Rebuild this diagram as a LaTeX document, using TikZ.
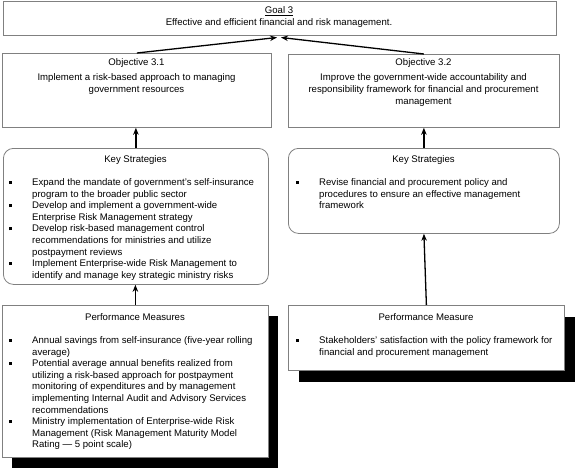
\documentclass[tikz,border=0pt]{standalone}
\usepackage{fontspec}
\setmainfont{Liberation Sans}
\usetikzlibrary{arrows.meta}
\definecolor{boxgray}{RGB}{128,128,128}
\newcommand\bul{\rule[1.6pt]{3pt}{3pt}}
\begin{document}
\begin{tikzpicture}[x=1pt,y=-1pt,
  box/.style={draw=boxgray, line width=0.8pt, fill=white, anchor=north west, inner sep=0pt},
  rbox/.style={box, rounded corners=10pt},
  shadowbox/.style={fill=black, anchor=north west, inner sep=0pt},
  txt/.style={font=\fontsize{9.6}{11.6}\selectfont, inner sep=0pt, text=black},
  link/.style={line width=1.3pt, -{Stealth[length=7pt,width=5.5pt]}},
]
\useasboundingbox (0,0) rectangle (575,468);

% goal
\node[box, minimum width=553pt, minimum height=34pt] (g) at (3,1) {};
\node[txt, anchor=base] (gt) at (279,14) {\underline{Goal 3}};
\node[txt, anchor=base] (gd) at (279,25.5) {Effective and efficient financial and risk management.};
\coordinate (gl) at (277,37.5);
\coordinate (gr) at (281,37.5);

% objectives
\node[box, minimum width=269pt, minimum height=74pt] (o1) at (2,53) {};
\node[txt, anchor=base] (o1t) at (136.5,66) {Objective 3.1};
\node[txt, anchor=base] (o1d) at (136.5,81) {\begin{tabular}[t]{@{}c@{}}Implement a risk-based approach to managing\\government resources\end{tabular}};

\node[box, minimum width=271pt, minimum height=73pt] (o2) at (288,54) {};
\node[txt, anchor=base] (o2t) at (423.5,66) {Objective 3.2};
\node[txt, anchor=base] (o2d) at (423.5,81) {\begin{tabular}[t]{@{}c@{}}Improve the government-wide accountability and\\responsibility framework for financial and procurement\\management\end{tabular}};

% key strategies
\node[rbox, minimum width=265pt, minimum height=136pt] (k1) at (3,148) {};
\node[txt, anchor=base] (k1t) at (135.5,162) {Key Strategies};
\node[txt, anchor=base west] (k1l) at (9,185.5) {\begin{tabular}[t]{@{}p{23pt}@{}l@{}}
\bul & Expand the mandate of government’s self-insurance\\
 & program to the broader public sector\\
\bul & Develop and implement a government-wide\\
 & Enterprise Risk Management strategy\\
\bul & Develop risk-based management control\\
 & recommendations for ministries and utilize\\
 & postpayment reviews\\
\bul & Implement Enterprise-wide Risk Management to\\
 & identify and manage key strategic ministry risks
\end{tabular}};

\node[rbox, minimum width=271pt, minimum height=85pt] (k2) at (288,148) {};
\node[txt, anchor=base] (k2t) at (423.5,162) {Key Strategies};
\node[txt, anchor=base west] (k2l) at (296,185.5) {\begin{tabular}[t]{@{}p{23pt}@{}l@{}}
\bul & Revise financial and procurement policy and\\
 & procedures to ensure an effective management\\
 & framework
\end{tabular}};

% performance measures
\node[shadowbox, minimum width=266pt, minimum height=152pt] (s1) at (12,316) {};
\node[box, minimum width=266pt, minimum height=152pt] (p1) at (2,305) {};
\node[txt, anchor=base] (p1t) at (135,320) {Performance Measures};
\node[txt, anchor=base west] (p1l) at (9,343.5) {\begin{tabular}[t]{@{}p{23pt}@{}l@{}}
\bul & Annual savings from self-insurance (five-year rolling\\
 & average)\\
\bul & Potential average annual benefits realized from\\
 & utilizing a risk-based approach for postpayment\\
 & monitoring of expenditures and by management\\
 & implementing Internal Audit and Advisory Services\\
 & recommendations\\
\bul & Ministry implementation of Enterprise-wide Risk\\
 & Management (Risk Management Maturity Model\\
 & Rating — 5 point scale)
\end{tabular}};

\node[shadowbox, minimum width=276pt, minimum height=65pt] (s2) at (299,317) {};
\node[box, minimum width=276pt, minimum height=65pt] (p2) at (288,305) {};
\node[txt, anchor=base] (p2t) at (426,320) {Performance Measure};
\node[txt, anchor=base west] (p2l) at (296,343.5) {\begin{tabular}[t]{@{}p{23pt}@{}l@{}}
\bul & Stakeholders’ satisfaction with the policy framework for\\
 & financial and procurement management
\end{tabular}};

% connectors
\draw[link] (o1.north) -- (gl);
\draw[link] (o2.north) -- (gr);
\draw[link] (k1.north) -- (k1.north |- o1.south);
\draw[link] (k2.north) -- (k2.north |- o2.south);
\draw[link] (p1.north) -- (p1.north |- k1.south);
\draw[link] (p2.north) -- (k2.south);
\end{tikzpicture}
\end{document}
